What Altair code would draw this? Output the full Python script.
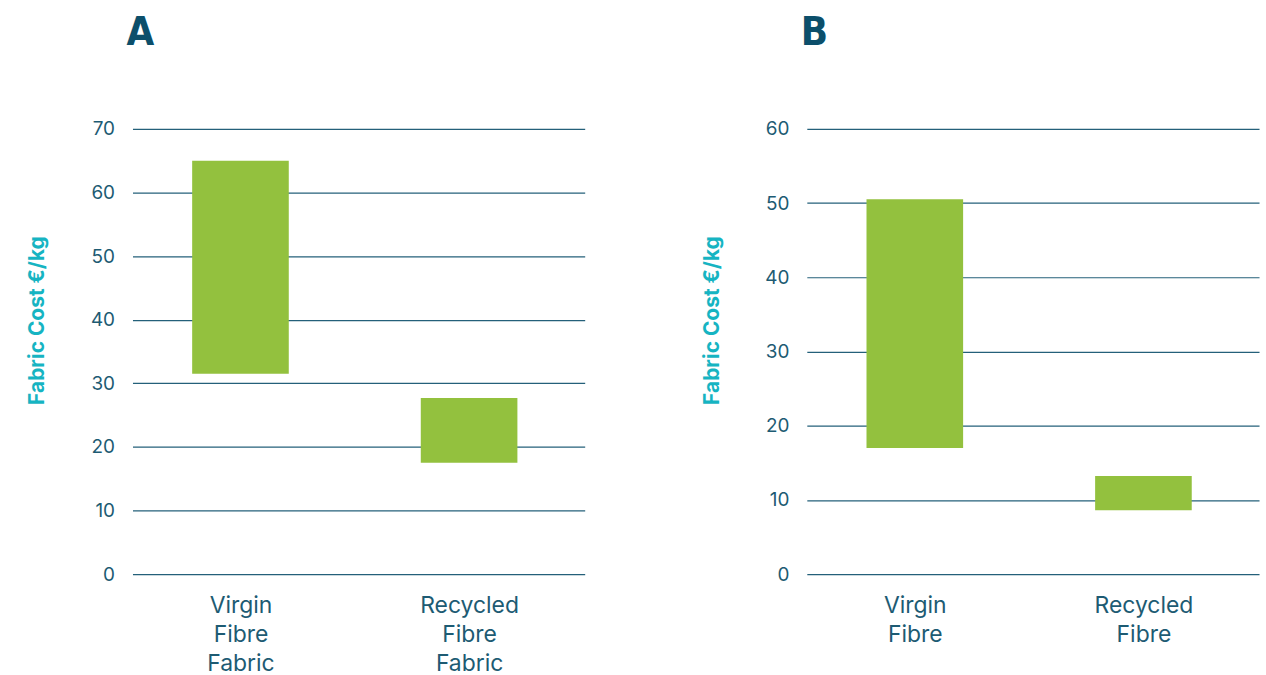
import altair as alt
import pandas as pd

# Panel A
a_categories = ["Virgin Fibre Fabric", "Recycled Fibre Fabric"]
a_low = [31.5, 17.5]
a_high = [65.0, 27.7]
a_ticks = [0, 10, 20, 30, 40, 50, 60, 70]

# Panel B
b_categories = ["Virgin Fibre", "Recycled Fibre"]
b_low = [17.0, 8.6]
b_high = [50.5, 13.2]
b_ticks = [0, 10, 20, 30, 40, 50, 60]

GREEN = "#93c13e"
DARK = "#1d5b73"
GRID = "#24607a"
CYAN = "#16b4c2"
TITLE = "#0c4f6b"
FONT = "Inter"


def panel(title, cats, low, high, ticks):
    df = pd.DataFrame({"cat": cats, "low": low, "high": high})
    return (
        alt.Chart(df, title=alt.TitleParams(
            text=title, anchor="start", fontSize=40, font="DejaVu Sans Condensed",
            fontWeight=900, color=TITLE, offset=67, dx=100))
        .mark_bar(size=97, color=GREEN)
        .encode(
            x=alt.X("cat:N", sort=cats, title=None,
                    scale=alt.Scale(type="point", padding=0.489, align=0.483),
                    axis=alt.Axis(labelExpr="split(datum.label, ' ')", labelAngle=0,
                                  labelFontSize=23, labelLineHeight=29, labelColor=DARK,
                                  labelFont=FONT, labelPadding=21, ticks=False,
                                  domain=False, grid=False)),
            y=alt.Y("low:Q", title="Fabric Cost €/kg",
                    scale=alt.Scale(domain=[ticks[0], ticks[-1]], nice=False),
                    axis=alt.Axis(values=ticks, labelFontSize=19, labelColor=DARK,
                                  labelFont=FONT, labelPadding=18, ticks=False,
                                  domain=False, gridColor=GRID, gridWidth=1.2,
                                  titleColor=CYAN, titleFont=FONT, titleFontSize=21,
                                  titleFontWeight="bold", titleX=-85, titleY=192)),
            y2="high:Q",
        )
        .properties(width=454, height=447, view=alt.ViewBackground(stroke=None, strokeWidth=0))
    )


chart = (
    alt.hconcat(
        panel("A", a_categories, a_low, a_high, a_ticks),
        panel("B", b_categories, b_low, b_high, b_ticks),
        spacing=117,
    )
    .properties(padding={"left": 27, "top": 12, "right": 7, "bottom": 0})
    .configure_view(strokeWidth=0, stroke="transparent")
    .configure(background="white")
)

chart.save("out.html", embed_options={"renderer": "svg", "actions": False})
